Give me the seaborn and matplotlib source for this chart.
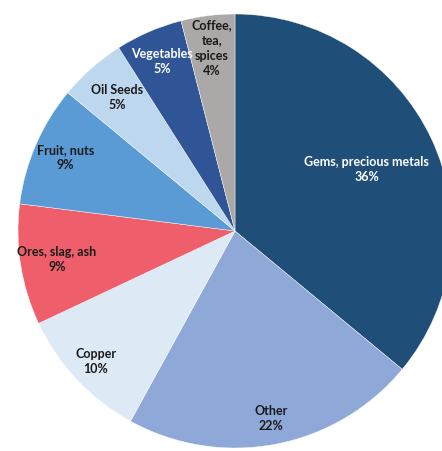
# Exporte nach Warengruppe als Tortendiagramm

import numpy as np
import seaborn as sns
import matplotlib.pyplot as plt

kategorien = ["Gems, precious metals", "Other", "Copper", "Ores, slag, ash",
              "Fruit, nuts", "Oil Seeds", "Vegetables", "Coffee,\ntea,\nspices"]
anteile = [36, 22, 10, 9, 9, 5, 5, 4]
farben = ["#1F4E79", "#8EA9D8", "#DDEAF6", "#EE5F6B",
          "#5B9BD5", "#BDD7EE", "#2F5597", "#ABA9A7"]
textfarben = ["white", "#1a1a1a", "#1a1a1a", "#1a1a1a",
              "#1a1a1a", "#1a1a1a", "white", "#1a1a1a"]
label_abstand = [0.67, 0.88, 0.88, 0.83, 0.85, 0.82, 0.85, 0.85]

sns.set_theme(style="white")
plt.rcParams["font.family"] = ["Lato", "DejaVu Sans"]

fig = plt.figure(figsize=(4.42, 4.51), dpi=100)
ax = fig.add_axes([0, 0, 1, 1])

wedges, _ = ax.pie(anteile, colors=sns.color_palette(farben), startangle=90,
                   counterclock=False, radius=1,
                   wedgeprops=dict(edgecolor="white", linewidth=0.3))

# Beschriftungen in die Mitte der Segmente setzen
for w, name, wert, tf, d in zip(wedges, kategorien, anteile, textfarben, label_abstand):
    mitte = np.deg2rad((w.theta1 + w.theta2) / 2)
    x, y = d * np.cos(mitte), d * np.sin(mitte)
    ax.text(x, y, f"{name}\n{wert}%", ha="center", va="center",
            fontsize=9, fontweight="bold", color=tf, linespacing=1.3)

r_px = 217
ax.set_xlim(-235 / r_px, (442 - 235) / r_px)
ax.set_ylim(-(451 - 231) / r_px, 231 / r_px)
ax.set_aspect("equal")
ax.axis("off")

fig.savefig("out.png", dpi=100)
